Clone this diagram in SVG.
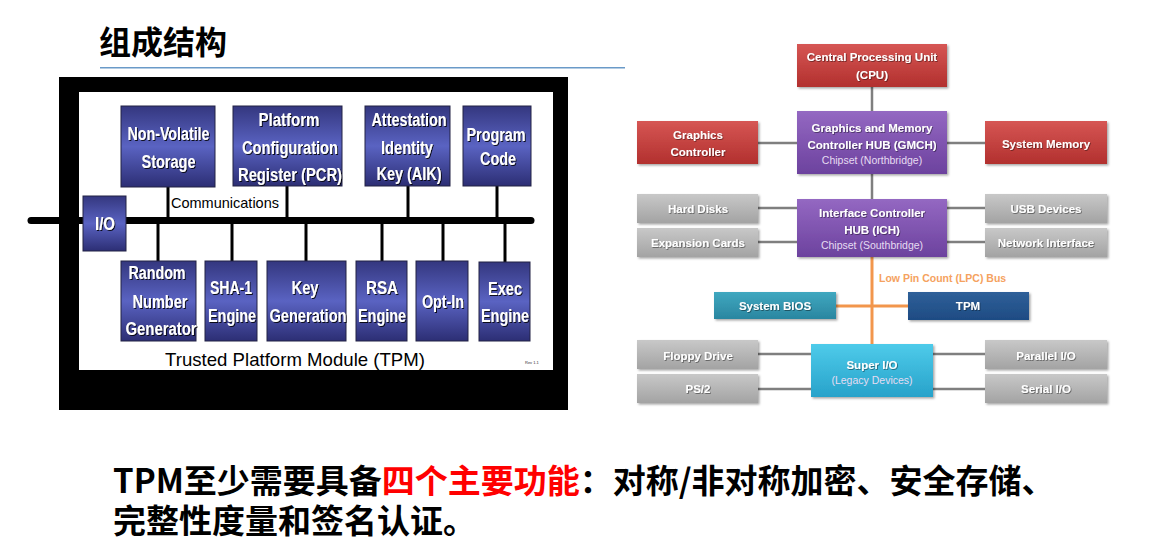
<svg xmlns="http://www.w3.org/2000/svg" width="1161" height="560" viewBox="0 0 1161 560">
<defs>
<linearGradient id="gB" x1="0" y1="0" x2="0" y2="1">
<stop offset="0" stop-color="#34377f"/><stop offset="0.5" stop-color="#5a63c2"/><stop offset="1" stop-color="#2c2e74"/>
</linearGradient>
<linearGradient id="gRed" x1="0" y1="0" x2="0" y2="1"><stop offset="0" stop-color="#d65654"/><stop offset="1" stop-color="#b2302e"/></linearGradient>
<linearGradient id="gPur" x1="0" y1="0" x2="0" y2="1"><stop offset="0" stop-color="#9468c2"/><stop offset="1" stop-color="#6c429e"/></linearGradient>
<linearGradient id="gGry" x1="0" y1="0" x2="0" y2="1"><stop offset="0" stop-color="#c8c8c8"/><stop offset="1" stop-color="#a3a3a3"/></linearGradient>
<linearGradient id="gTeal" x1="0" y1="0" x2="0" y2="1"><stop offset="0" stop-color="#40a8c0"/><stop offset="1" stop-color="#2a86a0"/></linearGradient>
<linearGradient id="gNavy" x1="0" y1="0" x2="0" y2="1"><stop offset="0" stop-color="#2f6099"/><stop offset="1" stop-color="#1e4b83"/></linearGradient>
<linearGradient id="gCyan" x1="0" y1="0" x2="0" y2="1"><stop offset="0" stop-color="#4ecbea"/><stop offset="1" stop-color="#27a2ca"/></linearGradient>
<filter id="ts" x="-10%" y="-30%" width="120%" height="160%"><feDropShadow dx="1" dy="1" stdDeviation="0.4" flood-color="#000" flood-opacity="0.85"/></filter>
<filter id="ts2" x="-10%" y="-30%" width="120%" height="160%"><feDropShadow dx="0.8" dy="0.8" stdDeviation="0.5" flood-color="#000" flood-opacity="0.5"/></filter>
<filter id="bs" x="-5%" y="-10%" width="115%" height="130%"><feDropShadow dx="1.5" dy="1.5" stdDeviation="1" flood-color="#000" flood-opacity="0.35"/></filter>
</defs>
<style>
.lb{fill:url(#gB);stroke:#222244;stroke-width:1}
.lt{font-family:"Liberation Sans",Arial,sans-serif;font-weight:bold;font-size:18px;fill:#fff;text-anchor:middle;filter:url(#ts)}
.vl{stroke:#000;stroke-width:3}
.rt{font-family:"Liberation Sans",Arial,sans-serif;font-weight:bold;font-size:11.5px;fill:#fff;text-anchor:middle;filter:url(#ts2)}
.rs{font-family:"Liberation Sans",Arial,sans-serif;font-size:10.5px;fill:#e6dcf2;text-anchor:middle}
.rl{stroke:#7f7f7f;stroke-width:2.5;fill:none}
.ol{stroke:#f2964c;stroke-width:3;fill:none}
.rb{filter:url(#bs)}
.cn{font-family:"Liberation Sans","Noto Sans CJK SC",sans-serif;font-weight:bold}
</style>
<rect width="1161" height="560" fill="#fff"/>

<g id="title">
<text x="99" y="54" class="cn" font-size="32" font-family="'Noto Sans CJK SC',sans-serif" fill="#000">组成结构</text>
<line x1="100" y1="67.7" x2="625" y2="67.7" stroke="#6a9ac8" stroke-width="1.6"/>
</g>

<g id="tpm-frame">
<rect x="59" y="77" width="509" height="333" fill="#000"/>
<rect x="79" y="92" width="474" height="278" fill="#fff"/>
<text x="165" y="366" font-family="'Liberation Sans',Arial,sans-serif" font-size="19" fill="#000" textLength="260" lengthAdjust="spacingAndGlyphs">Trusted Platform Module (TPM)</text>
<text x="525" y="364" font-family="'Liberation Sans',Arial,sans-serif" font-size="4" fill="#333">Rev 1.1</text>
</g>

<g id="tpm-connectors">
<line x1="31" y1="220.5" x2="531" y2="220.5" stroke="#000" stroke-width="7" stroke-linecap="round"/>
<line class="vl" x1="168" y1="187" x2="168" y2="220"/>
<line class="vl" x1="287" y1="186" x2="287" y2="220"/>
<line class="vl" x1="408" y1="186" x2="408" y2="220"/>
<line class="vl" x1="497" y1="186" x2="497" y2="220"/>
<line class="vl" x1="158" y1="220" x2="158" y2="261"/>
<line class="vl" x1="232" y1="220" x2="232" y2="261"/>
<line class="vl" x1="306" y1="220" x2="306" y2="261"/>
<line class="vl" x1="382" y1="220" x2="382" y2="261"/>
<line class="vl" x1="443" y1="220" x2="443" y2="261"/>
<line class="vl" x1="505" y1="220" x2="505" y2="262"/>
<text x="171" y="208" font-family="'Liberation Sans',Arial,sans-serif" font-size="14.5" fill="#000" textLength="108" lengthAdjust="spacingAndGlyphs">Communications</text>
</g>

<g id="nv-storage"><rect class="lb" x="121" y="106" width="94" height="81"/>
<text class="lt" x="168.5" y="139.5" textLength="82" lengthAdjust="spacingAndGlyphs">Non-Volatile</text>
<text class="lt" x="168.5" y="167.5" textLength="54" lengthAdjust="spacingAndGlyphs">Storage</text></g>
<g id="pcr"><rect class="lb" x="233" y="106" width="109" height="80"/>
<text class="lt" x="289" y="125.5" textLength="61" lengthAdjust="spacingAndGlyphs">Platform</text>
<text class="lt" x="290" y="153.5" textLength="96" lengthAdjust="spacingAndGlyphs">Configuration</text>
<text class="lt" x="290" y="180.5" textLength="104" lengthAdjust="spacingAndGlyphs">Register (PCR)</text></g>
<g id="aik"><rect class="lb" x="365" y="106" width="85" height="80"/>
<text class="lt" x="409" y="125.5" textLength="75" lengthAdjust="spacingAndGlyphs">Attestation</text>
<text class="lt" x="407" y="153.5" textLength="52" lengthAdjust="spacingAndGlyphs">Identity</text>
<text class="lt" x="409" y="179.5" textLength="65" lengthAdjust="spacingAndGlyphs">Key (AIK)</text></g>
<g id="program-code"><rect class="lb" x="463" y="106" width="68" height="80"/>
<text class="lt" x="496" y="140.5" textLength="59" lengthAdjust="spacingAndGlyphs">Program</text>
<text class="lt" x="498" y="164.5" textLength="36" lengthAdjust="spacingAndGlyphs">Code</text></g>
<g id="io"><rect class="lb" x="83" y="196" width="43" height="55"/>
<text class="lt" x="105" y="229.5" textLength="20" lengthAdjust="spacingAndGlyphs">I/O</text></g>
<g id="rng"><rect class="lb" x="121" y="261" width="75" height="80"/>
<text class="lt" x="157" y="278.5" textLength="57" lengthAdjust="spacingAndGlyphs">Random</text>
<text class="lt" x="160" y="307.5" textLength="55" lengthAdjust="spacingAndGlyphs">Number</text>
<text class="lt" x="161" y="334.5" textLength="71" lengthAdjust="spacingAndGlyphs">Generator</text></g>
<g id="sha1"><rect class="lb" x="205" y="261" width="52" height="80"/>
<text class="lt" x="231" y="293.5" textLength="42" lengthAdjust="spacingAndGlyphs">SHA-1</text>
<text class="lt" x="232" y="321.5" textLength="48" lengthAdjust="spacingAndGlyphs">Engine</text></g>
<g id="keygen"><rect class="lb" x="267" y="261" width="79" height="80"/>
<text class="lt" x="305" y="293.5" textLength="27" lengthAdjust="spacingAndGlyphs">Key</text>
<text class="lt" x="308" y="321.5" textLength="77" lengthAdjust="spacingAndGlyphs">Generation</text></g>
<g id="rsa"><rect class="lb" x="356" y="261" width="51" height="80"/>
<text class="lt" x="382" y="293.5" textLength="32" lengthAdjust="spacingAndGlyphs">RSA</text>
<text class="lt" x="382" y="321.5" textLength="48" lengthAdjust="spacingAndGlyphs">Engine</text></g>
<g id="optin"><rect class="lb" x="416" y="261" width="52" height="80"/>
<text class="lt" x="443" y="307.5" textLength="42" lengthAdjust="spacingAndGlyphs">Opt-In</text></g>
<g id="exec"><rect class="lb" x="479" y="262" width="51" height="79"/>
<text class="lt" x="505" y="294.5" textLength="34" lengthAdjust="spacingAndGlyphs">Exec</text>
<text class="lt" x="505" y="321.5" textLength="48" lengthAdjust="spacingAndGlyphs">Engine</text></g>

<g id="pc-connectors">
<line class="rl" x1="872" y1="87" x2="872" y2="111"/>
<line class="rl" x1="872" y1="174" x2="872" y2="199"/>
<line class="rl" x1="758" y1="143" x2="797" y2="143"/>
<line class="rl" x1="947" y1="143" x2="985" y2="143"/>
<line class="rl" x1="758" y1="208" x2="797" y2="208"/>
<line class="rl" x1="758" y1="242" x2="797" y2="242"/>
<line class="rl" x1="947" y1="208" x2="985" y2="208"/>
<line class="rl" x1="947" y1="242" x2="985" y2="242"/>
<line class="rl" x1="758" y1="354" x2="811" y2="354"/>
<line class="rl" x1="758" y1="389" x2="811" y2="389"/>
<line class="rl" x1="933" y1="354" x2="985" y2="354"/>
<line class="rl" x1="933" y1="389" x2="985" y2="389"/>
<line class="ol" x1="872" y1="257" x2="872" y2="344"/>
<line class="ol" x1="836" y1="306" x2="908" y2="306"/>
<text x="879" y="282" font-family="'Liberation Sans',Arial,sans-serif" font-weight="bold" font-size="10.5" fill="#f5a260">Low Pin Count (LPC) Bus</text>
</g>

<g id="cpu"><rect class="rb" x="797" y="44" width="150" height="43" fill="url(#gRed)"/>
<text class="rt" x="872" y="61">Central Processing Unit</text>
<text class="rt" x="872" y="79">(CPU)</text></g>
<g id="gmch"><rect class="rb" x="797" y="111" width="150" height="63" fill="url(#gPur)"/>
<text class="rt" x="872" y="132">Graphics and Memory</text>
<text class="rt" x="872" y="148.5">Controller HUB (GMCH)</text>
<text class="rs" x="872" y="164">Chipset (Northbridge)</text></g>
<g id="graphics"><rect class="rb" x="637" y="121" width="121" height="43" fill="url(#gRed)"/>
<text class="rt" x="698" y="139">Graphics</text>
<text class="rt" x="698" y="156">Controller</text></g>
<g id="sysmem"><rect class="rb" x="985" y="121" width="122" height="43" fill="url(#gRed)"/>
<text class="rt" x="1046" y="148">System Memory</text></g>
<g id="ich"><rect class="rb" x="797" y="199" width="150" height="58" fill="url(#gPur)"/>
<text class="rt" x="872" y="217">Interface Controller</text>
<text class="rt" x="872" y="234">HUB (ICH)</text>
<text class="rs" x="872" y="249">Chipset (Southbridge)</text></g>
<g id="hdd"><rect class="rb" x="637" y="194" width="121" height="29" fill="url(#gGry)"/>
<text class="rt" x="698" y="213">Hard Disks</text></g>
<g id="expansion"><rect class="rb" x="637" y="228" width="121" height="29" fill="url(#gGry)"/>
<text class="rt" x="698" y="247">Expansion Cards</text></g>
<g id="usb"><rect class="rb" x="985" y="194" width="122" height="29" fill="url(#gGry)"/>
<text class="rt" x="1046" y="213">USB Devices</text></g>
<g id="network"><rect class="rb" x="985" y="228" width="122" height="29" fill="url(#gGry)"/>
<text class="rt" x="1046" y="247">Network Interface</text></g>
<g id="bios"><rect class="rb" x="714" y="292" width="122" height="27" fill="url(#gTeal)"/>
<text class="rt" x="775" y="310">System BIOS</text></g>
<g id="tpm"><rect class="rb" x="908" y="292" width="121" height="28" fill="url(#gNavy)"/>
<text class="rt" x="968" y="310">TPM</text></g>
<g id="superio"><rect class="rb" x="811" y="344" width="122" height="53" fill="url(#gCyan)"/>
<text class="rt" x="872" y="369">Super I/O</text>
<text class="rs" x="872" y="384" fill="#eaf6fb">(Legacy Devices)</text></g>
<g id="floppy"><rect class="rb" x="637" y="340" width="121" height="29" fill="url(#gGry)"/>
<text class="rt" x="698" y="360">Floppy Drive</text></g>
<g id="ps2"><rect class="rb" x="637" y="374" width="121" height="29" fill="url(#gGry)"/>
<text class="rt" x="698" y="393">PS/2</text></g>
<g id="parallel"><rect class="rb" x="985" y="340" width="122" height="29" fill="url(#gGry)"/>
<text class="rt" x="1046" y="360">Parallel I/O</text></g>
<g id="serial"><rect class="rb" x="985" y="374" width="122" height="29" fill="url(#gGry)"/>
<text class="rt" x="1046" y="393">Serial I/O</text></g>

<g id="summary" font-family="'Noto Sans CJK SC',sans-serif" font-weight="bold" font-size="33" fill="#000">
<text x="113" y="493">TPM至少需要具备<tspan fill="#ff0000">四个主要功能</tspan>：对称/非对称加密、安全存储、</text>
<text x="113" y="533">完整性度量和签名认证。</text>
</g>
</svg>
